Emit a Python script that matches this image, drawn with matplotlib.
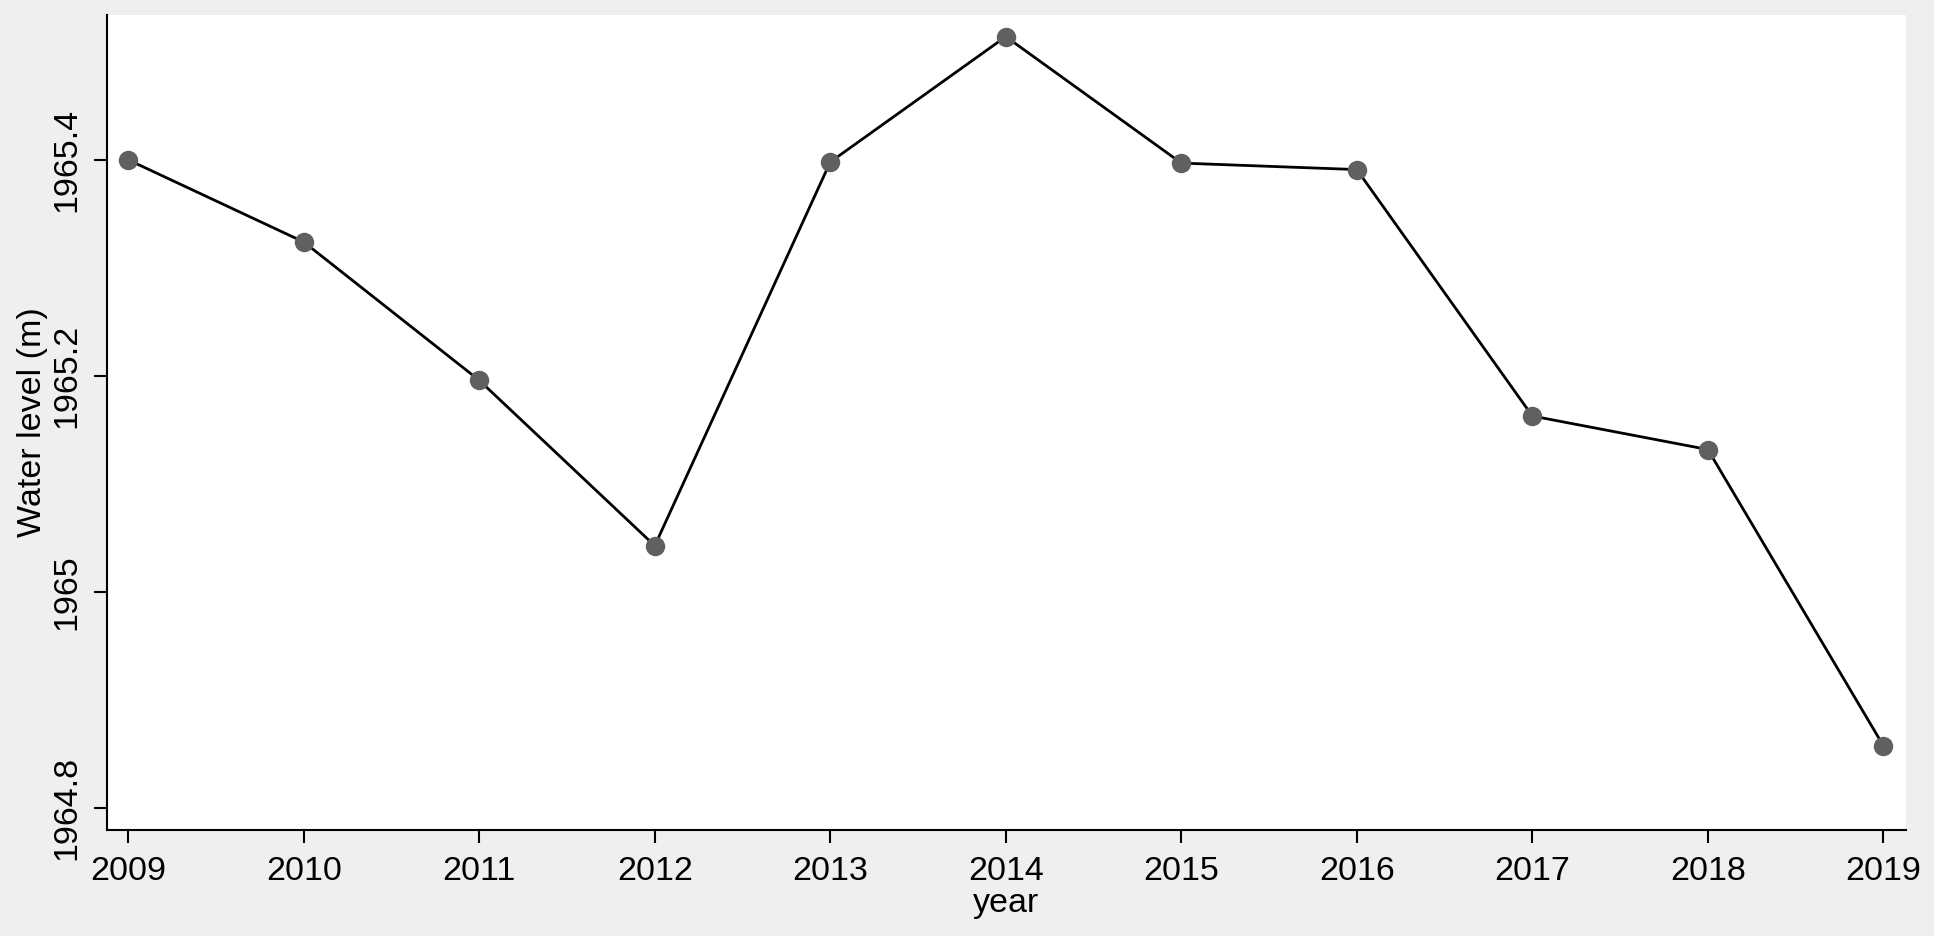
import matplotlib
matplotlib.use("Agg")
import matplotlib.pyplot as plt

years = [2009, 2010, 2011, 2012, 2013, 2014, 2015, 2016, 2017, 2018, 2019]
water_level = [1965.400, 1965.324, 1965.196, 1965.043, 1965.398, 1965.514,
               1965.397, 1965.391, 1965.163, 1965.132, 1964.858]
y_ticks = [1964.8, 1965.0, 1965.2, 1965.4]
y_tick_labels = ["1964.8", "1965", "1965.2", "1965.4"]

plt.rcParams['font.family'] = ['Liberation Sans', 'DejaVu Sans']

W, H = 1934, 936
fig = plt.figure(figsize=(W / 100, H / 100), dpi=100, facecolor='#efefef')
ax = fig.add_axes([107 / W, 1 - 830 / H, (1906 - 107) / W, (830 - 15) / H])
ax.set_facecolor('white')

ax.plot(years, water_level, color='black', linewidth=2.0, zorder=2)
ax.plot(years, water_level, linestyle='none', marker='o', markersize=14,
        markerfacecolor='#606060', markeredgewidth=0, zorder=3)

ax.set_xlim(2008.879, 2019.129)
ax.set_ylim(1964.780, 1965.534)
ax.set_xticks(years)
ax.set_xticklabels([str(y) for y in years])
ax.set_yticks(y_ticks)
ax.set_yticklabels(y_tick_labels, rotation=90, va='center')

for s in ['top', 'right']:
    ax.spines[s].set_visible(False)
for s in ['left', 'bottom']:
    ax.spines[s].set_linewidth(1.5)
    ax.spines[s].set_color('black')

ax.tick_params(axis='both', length=9.5, width=1.5, labelsize=24.5, color='black')
ax.tick_params(axis='x', pad=9)
ax.tick_params(axis='y', pad=8)

ax.set_xlabel('year', fontsize=24.5, labelpad=1)
ax.set_ylabel('Water level (m)', fontsize=24.5, labelpad=3)

fig.savefig('out.png', dpi=100, facecolor=fig.get_facecolor())
